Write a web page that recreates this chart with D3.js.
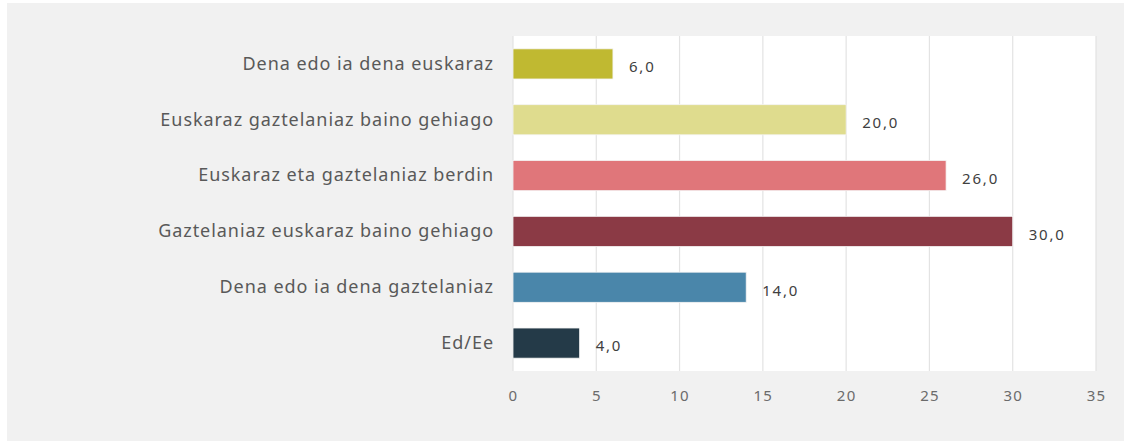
<!DOCTYPE html>
<html>
<head>
<meta charset="utf-8">
<script src="https://cdn.jsdelivr.net/npm/d3@7"></script>
<style>
  body { margin: 0; background: #fff; }
  svg text { font-family: "Noto Sans", sans-serif; }
</style>
</head>
<body>
<div id="chart"></div>
<script>
// data
var categories = ["Dena edo ia dena euskaraz", "Euskaraz gaztelaniaz baino gehiago",
    "Euskaraz eta gaztelaniaz berdin", "Gaztelaniaz euskaraz baino gehiago",
    "Dena edo ia dena gaztelaniaz", "Ed/Ee"];
var values = [6.0, 20.0, 26.0, 30.0, 14.0, 4.0];
var colors = ["#c0b931", "#dfdc8e", "#e0767a", "#8b3a45", "#4a86aa", "#243a48"];
var xTicks = [0, 5, 10, 15, 20, 25, 30, 35];

var width = 1124, height = 441;
var margin = {left: 513, right: 28, top: 36, bottom: 70};

var svg = d3.select("#chart").append("svg")
    .attr("width", width)
    .attr("height", height);

// gray panel
svg.append("rect")
    .attr("x", 7).attr("y", 3)
    .attr("width", width - 7).attr("height", height - 3)
    .attr("fill", "#f1f1f1");

var xScale = d3.scaleLinear()
    .domain([0, 35])
    .range([margin.left, width - margin.right]);

var yScale = d3.scaleBand()
    .domain(categories)
    .range([margin.top, height - margin.bottom])
    .paddingInner(0.46)
    .paddingOuter(0.23);

// white plot area
svg.append("rect")
    .attr("x", margin.left).attr("y", margin.top)
    .attr("width", xScale(35) - margin.left)
    .attr("height", height - margin.bottom - margin.top)
    .attr("fill", "#fff");

// gridlines
svg.append("g").selectAll("line")
    .data(xTicks)
    .enter().append("line")
    .attr("x1", d => xScale(d)).attr("x2", d => xScale(d))
    .attr("y1", margin.top).attr("y2", height - margin.bottom)
    .attr("stroke", "#e3e3e3").attr("stroke-width", 1.2);

// x axis
var xAxis = d3.axisBottom(xScale).tickValues(xTicks).tickSize(0).tickPadding(19);
var gx = svg.append("g")
    .attr("transform", `translate(0, ${height - margin.bottom})`)
    .call(xAxis);
gx.select(".domain").remove();
gx.selectAll("text").attr("fill", "#6b6b6b")
    .style("font-size", "15px").style("letter-spacing", "1.2px");

// y axis
var yAxis = d3.axisLeft(yScale).tickSize(0).tickPadding(19);
var gy = svg.append("g")
    .attr("transform", `translate(${margin.left}, 0)`)
    .call(yAxis);
gy.select(".domain").remove();
gy.selectAll("text").attr("fill", "#595959")
    .style("font-size", "18px").style("letter-spacing", "0.95px");

// bars
var data = categories.map((c, i) => ({cat: c, value: values[i], color: colors[i]}));

svg.selectAll("rect.bar")
    .data(data)
    .enter().append("rect")
    .attr("class", "bar")
    .attr("x", xScale(0))
    .attr("y", d => yScale(d.cat))
    .attr("width", d => xScale(d.value) - xScale(0))
    .attr("height", yScale.bandwidth())
    .attr("fill", d => d.color)
    .attr("stroke", "#f4f4f4").attr("stroke-width", 0.8);

// value labels
svg.selectAll("text.val")
    .data(data)
    .enter().append("text")
    .attr("class", "val")
    .attr("x", d => xScale(d.value) + 16)
    .attr("y", d => yScale(d.cat) + yScale.bandwidth() / 2 + 3)
    .attr("dy", "0.35em")
    .attr("fill", "#404040")
    .style("font-size", "15px").style("letter-spacing", "1.8px")
    .text(d => d3.format(".1f")(d.value).replace(".", ","));
</script>
</body>
</html>
